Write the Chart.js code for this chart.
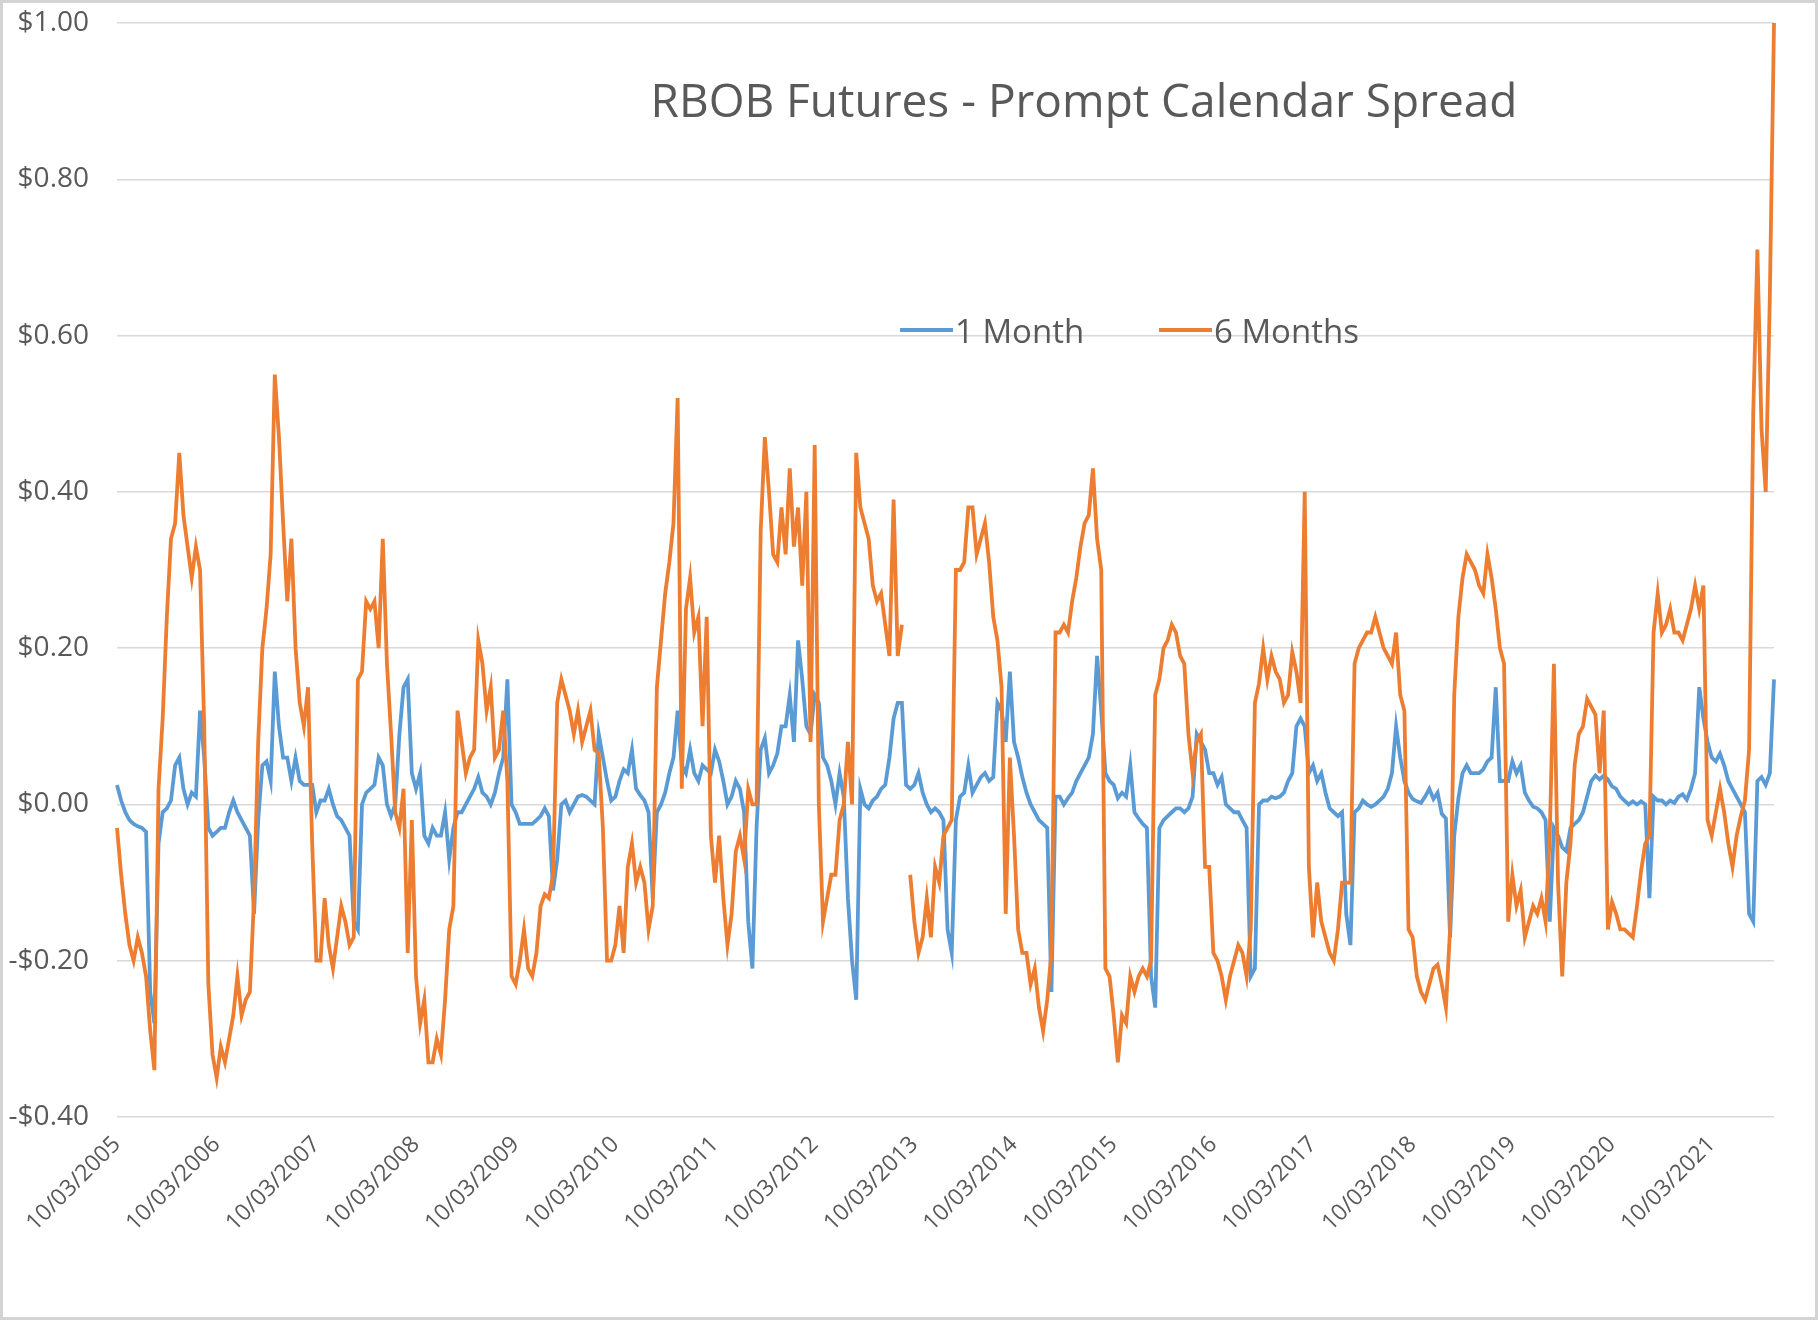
<!DOCTYPE html>
<html>
<head>
<meta charset="utf-8">
<script src="https://cdn.jsdelivr.net/npm/chart.js@4.4.1/dist/chart.umd.min.js"></script>
<style>
html,body{margin:0;padding:0;background:#fff;}
#wrap{position:relative;width:1818px;height:1320px;}
</style>
</head>
<body>
<div id="wrap"><canvas id="c" width="1818" height="1320"></canvas></div>
<script>
const chartTitle = 'RBOB Futures - Prompt Calendar Spread';
const seriesNames = ['1 Month', '6 Months'];
const seriesColors = ['#5B9BD5', '#ED7D31'];
const startYear = 2005, startMonth = 10;   // first observation 10/03/2005, semi-monthly samples
const pointsPerTick = 24;                  // one labelled tick per year

const oneMonth = [
 0.025,0.005,-0.01,-0.02,-0.025,-0.028,-0.03,-0.035,-0.24,-0.28,-0.05,-0.01,-0.005,0.005,0.05,0.06,0.02,0.0,0.015,0.01,0.12,0.06,-0.03,-0.04,
 -0.035,-0.03,-0.03,-0.01,0.005,-0.01,-0.02,-0.03,-0.04,-0.14,-0.02,0.05,0.055,0.03,0.17,0.10,0.06,0.06,0.03,0.06,0.03,0.025,0.025,0.025,
 -0.01,0.005,0.005,0.02,0.0,-0.015,-0.02,-0.03,-0.04,-0.15,-0.16,0.0,0.015,0.02,0.025,0.06,0.05,0.0,-0.015,0.0,0.09,0.15,0.16,0.04,
 0.02,0.04,-0.04,-0.05,-0.03,-0.04,-0.04,-0.01,-0.07,-0.03,-0.01,-0.01,0.0,0.01,0.02,0.035,0.015,0.01,0.0,0.015,0.04,0.06,0.16,0.0,
 -0.01,-0.025,-0.025,-0.025,-0.025,-0.02,-0.015,-0.005,-0.015,-0.11,-0.07,0.0,0.005,-0.01,0.0,0.01,0.012,0.01,0.005,0.0,0.09,0.06,0.03,0.005,
 0.01,0.03,0.045,0.04,0.07,0.02,0.012,0.005,-0.01,-0.12,-0.01,0.0,0.015,0.04,0.06,0.12,0.05,0.04,0.07,0.04,0.03,0.05,0.045,0.04,
 0.07,0.055,0.03,0.0,0.01,0.03,0.02,-0.01,-0.15,-0.21,-0.03,0.07,0.085,0.04,0.05,0.065,0.10,0.10,0.14,0.08,0.21,0.16,0.10,0.09,
 0.14,0.13,0.06,0.05,0.03,0.0,0.04,0.01,-0.12,-0.20,-0.25,0.02,0.0,-0.005,0.005,0.01,0.02,0.025,0.06,0.11,0.13,0.13,0.025,0.02,
 0.025,0.04,0.015,0.0,-0.01,-0.005,-0.01,-0.02,-0.16,-0.19,-0.02,0.01,0.015,0.05,0.015,0.025,0.035,0.04,0.03,0.035,0.13,0.12,0.08,0.17,
 0.08,0.06,0.035,0.015,0.0,-0.01,-0.02,-0.025,-0.03,-0.24,0.01,0.01,0.0,0.008,0.015,0.03,0.04,0.05,0.06,0.09,0.19,0.12,0.04,0.03,
 0.025,0.008,0.015,0.01,0.05,-0.01,-0.018,-0.025,-0.03,-0.22,-0.26,-0.03,-0.02,-0.015,-0.01,-0.005,-0.005,-0.01,-0.005,0.01,0.09,0.08,0.07,0.04,
 0.04,0.025,0.035,0.0,-0.005,-0.01,-0.01,-0.02,-0.03,-0.22,-0.21,0.0,0.005,0.005,0.01,0.008,0.01,0.015,0.03,0.04,0.10,0.11,0.10,0.04,
 0.05,0.03,0.04,0.015,-0.005,-0.01,-0.015,-0.01,-0.14,-0.18,-0.01,-0.005,0.005,0.0,-0.003,0.0,0.005,0.01,0.02,0.04,0.10,0.06,0.03,0.015,
 0.007,0.004,0.002,0.01,0.02,0.007,0.015,-0.012,-0.018,-0.17,-0.04,0.008,0.04,0.05,0.04,0.04,0.04,0.045,0.055,0.06,0.15,0.03,0.03,0.03,
 0.055,0.04,0.05,0.015,0.005,-0.003,-0.005,-0.01,-0.02,-0.15,-0.03,-0.04,-0.055,-0.06,-0.03,-0.025,-0.02,-0.01,0.01,0.03,0.037,0.032,0.037,0.032,
 0.023,0.02,0.01,0.005,0.0,0.004,0.0,0.004,0.0,-0.12,0.01,0.005,0.005,0.0,0.005,0.002,0.01,0.013,0.006,0.02,0.04,0.15,0.11,0.08,
 0.06,0.055,0.065,0.05,0.03,0.02,0.01,0.0,-0.01,-0.14,-0.15,0.03,0.035,0.025,0.04,0.16
];

const sixMonths = [
 -0.03,-0.09,-0.14,-0.18,-0.20,-0.17,-0.19,-0.22,-0.29,-0.34,0.02,0.11,0.24,0.34,0.36,0.45,0.37,0.33,0.29,0.33,0.30,0.10,-0.23,-0.32,
 -0.35,-0.31,-0.33,-0.30,-0.27,-0.22,-0.27,-0.25,-0.24,-0.12,0.08,0.20,0.25,0.32,0.55,0.47,0.36,0.26,0.34,0.20,0.13,0.10,0.15,-0.05,
 -0.20,-0.20,-0.12,-0.18,-0.21,-0.17,-0.13,-0.15,-0.18,-0.17,0.16,0.17,0.26,0.25,0.26,0.20,0.34,0.18,0.09,-0.01,-0.03,0.02,-0.19,-0.02,
 -0.22,-0.28,-0.25,-0.33,-0.33,-0.30,-0.32,-0.25,-0.16,-0.13,0.12,0.08,0.04,0.06,0.07,0.21,0.18,0.12,0.15,0.06,0.07,0.12,0.03,-0.22,
 -0.23,-0.20,-0.16,-0.21,-0.22,-0.19,-0.13,-0.115,-0.12,-0.09,0.13,0.16,0.14,0.12,0.09,0.12,0.08,0.10,0.12,0.07,0.065,-0.03,-0.20,-0.20,
 -0.18,-0.13,-0.19,-0.08,-0.05,-0.10,-0.08,-0.10,-0.16,-0.13,0.15,0.21,0.27,0.31,0.36,0.52,0.02,0.25,0.29,0.22,0.24,0.10,0.24,-0.04,
 -0.10,-0.04,-0.12,-0.18,-0.14,-0.06,-0.04,-0.07,0.02,0.0,0.0,0.35,0.47,0.40,0.32,0.31,0.38,0.32,0.43,0.33,0.38,0.28,0.40,0.08,
 0.46,0.0,-0.15,-0.12,-0.09,-0.09,-0.02,0.0,0.08,0.0,0.45,0.38,0.36,0.34,0.28,0.26,0.27,0.23,0.19,0.39,0.19,0.23,null,-0.09,
 -0.15,-0.19,-0.17,-0.12,-0.17,-0.08,-0.10,-0.04,-0.03,-0.02,0.30,0.30,0.31,0.38,0.38,0.32,0.34,0.36,0.31,0.24,0.21,0.15,-0.14,0.06,
 -0.04,-0.16,-0.19,-0.19,-0.23,-0.21,-0.26,-0.29,-0.25,-0.19,0.22,0.22,0.23,0.22,0.26,0.29,0.33,0.36,0.37,0.43,0.34,0.30,-0.21,-0.22,
 -0.27,-0.33,-0.27,-0.28,-0.22,-0.24,-0.22,-0.21,-0.22,-0.20,0.14,0.16,0.20,0.21,0.23,0.22,0.19,0.18,0.09,0.04,0.08,0.09,-0.08,-0.08,
 -0.19,-0.20,-0.22,-0.25,-0.22,-0.20,-0.18,-0.19,-0.22,-0.16,0.13,0.155,0.20,0.16,0.19,0.17,0.16,0.13,0.14,0.195,0.17,0.13,0.40,-0.08,
 -0.17,-0.10,-0.15,-0.17,-0.19,-0.20,-0.16,-0.10,-0.10,-0.10,0.18,0.20,0.21,0.22,0.22,0.24,0.22,0.20,0.19,0.18,0.22,0.14,0.12,-0.16,
 -0.17,-0.22,-0.24,-0.25,-0.23,-0.21,-0.205,-0.23,-0.26,-0.16,0.14,0.24,0.29,0.32,0.31,0.30,0.28,0.27,0.32,0.29,0.25,0.20,0.18,-0.15,
 -0.09,-0.13,-0.11,-0.17,-0.15,-0.13,-0.14,-0.12,-0.15,-0.04,0.18,-0.10,-0.22,-0.10,-0.05,0.05,0.09,0.10,0.135,0.125,0.115,0.04,0.12,-0.16,
 -0.125,-0.14,-0.16,-0.16,-0.165,-0.17,-0.13,-0.085,-0.05,-0.04,0.22,0.27,0.22,0.23,0.25,0.22,0.22,0.21,0.23,0.25,0.28,0.25,0.28,-0.02,
 -0.04,-0.01,0.02,-0.01,-0.05,-0.08,-0.04,-0.015,0.005,0.07,0.50,0.71,0.48,0.40,0.65,1.0
];

// category dates: semi-monthly (3rd and 18th) from 10/03/2005
const pad = n => (n < 10 ? '0' : '') + n;
const categories = [];
for (let i = 0; i < oneMonth.length; i++) {
  const m = startMonth - 1 + Math.floor(i / 2);
  const y = startYear + Math.floor(m / 12);
  categories.push(pad(m % 12 + 1) + '/' + pad(i % 2 ? 18 : 3) + '/' + y);
}

const FONT = "'Open Sans', 'Noto Sans', sans-serif";
const TEXT = '#595959';

const decor = {
  id: 'decor',
  beforeDraw(chart) {
    const ctx = chart.ctx;
    ctx.save();
    ctx.fillStyle = '#ffffff';
    ctx.fillRect(0, 0, chart.width, chart.height);
    ctx.restore();
  },
  afterDraw(chart) {
    const ctx = chart.ctx;
    ctx.save();
    ctx.fillStyle = TEXT;
    ctx.font = "46px " + FONT;
    ctx.textAlign = 'center';
    ctx.textBaseline = 'alphabetic';
    ctx.fillText(chartTitle, 1084, 117);

    ctx.font = "33px " + FONT;
    ctx.textAlign = 'left';
    const legendX = [900, 1159];
    chart.data.datasets.forEach((ds, k) => {
      const x = legendX[k];
      ctx.strokeStyle = ds.borderColor;
      ctx.lineWidth = 4;
      ctx.beginPath();
      ctx.moveTo(x, 330);
      ctx.lineTo(x + 53, 330);
      ctx.stroke();
      ctx.fillStyle = TEXT;
      ctx.fillText(ds.label, x + 55, 343);
    });

    ctx.strokeStyle = '#d4d4d4';
    ctx.lineWidth = 3;
    ctx.strokeRect(1.5, 1.5, chart.width - 3, chart.height - 3);
    ctx.restore();
  }
};

new Chart(document.getElementById('c'), {
  type: 'line',
  data: {
    labels: categories,
    datasets: [
      { label: seriesNames[0], data: oneMonth, borderColor: seriesColors[0], backgroundColor: seriesColors[0],
        borderWidth: 3.8, pointRadius: 0, tension: 0, spanGaps: false, order: 1 },
      { label: seriesNames[1], data: sixMonths, borderColor: seriesColors[1], backgroundColor: seriesColors[1],
        borderWidth: 3.8, pointRadius: 0, tension: 0, spanGaps: false, order: 0 }
    ]
  },
  options: {
    responsive: false,
    animation: false,
    devicePixelRatio: 1,
    layout: { padding: { left: 0, top: 23, right: 44, bottom: 0 } },
    plugins: { legend: { display: false }, title: { display: false }, tooltip: { enabled: false } },
    scales: {
      x: {
        type: 'category',
        offset: false,
        grid: { display: false, drawTicks: false },
        border: { display: false },
        ticks: {
          autoSkip: false,
          maxRotation: 45,
          minRotation: 45,
          padding: 14,
          color: TEXT,
          font: { family: FONT, size: 23 },
          callback: (v, i) => (i % pointsPerTick === 0 ? categories[i] : '')
        },
        afterFit: s => { s.height = 203; }
      },
      y: {
        min: -0.4,
        max: 1.0,
        grid: { color: '#d9d9d9', lineWidth: 1.5, drawTicks: true, tickLength: 24, tickColor: 'rgba(0,0,0,0)' },
        border: { display: false },
        ticks: {
          stepSize: 0.2,
          padding: 4,
          color: TEXT,
          font: { family: FONT, size: 28 },
          callback: v => { const r = Math.round(v * 100) / 100; return (r < 0 ? '-$' : '$') + Math.abs(r).toFixed(2); }
        },
        afterFit: s => { s.width = 117; }
      }
    }
  },
  plugins: [decor]
});
</script>
</body>
</html>
